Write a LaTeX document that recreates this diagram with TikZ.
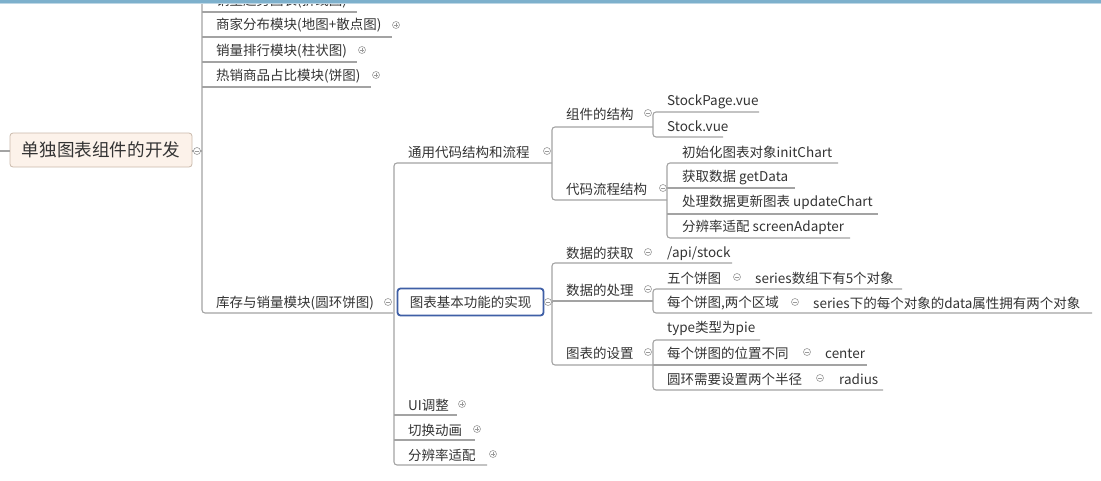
\documentclass[tikz,border=0pt]{standalone}
\usepackage{fontspec}
\setmainfont{Noto Sans CJK SC}
\definecolor{lc}{HTML}{A3A3A3}
\definecolor{cc}{HTML}{9A9A9A}
\definecolor{txt}{HTML}{333333}
\definecolor{rootfill}{HTML}{FCF2EA}
\definecolor{rootdraw}{HTML}{C9B9AA}
\definecolor{selblue}{HTML}{3F5FA6}
\definecolor{barblue}{HTML}{7DB0CC}
\tikzset{
  topic/.style={anchor=west, inner sep=0pt, yshift=-1.5pt, text=txt, font=\fontsize{13.5}{16}\selectfont},
  conn/.style={draw=lc, line width=1.1pt, rounded corners=3pt},
  fold/.style={circle, draw=cc, line width=0.6pt, minimum size=7pt, inner sep=0pt, fill=white,
    path picture={\draw[cc, line width=0.6pt] ([xshift=-2pt]path picture bounding box.center) -- ([xshift=2pt]path picture bounding box.center);}},
  unfold/.style={circle, draw=cc, line width=0.6pt, minimum size=7pt, inner sep=0pt, fill=white,
    path picture={\draw[cc, line width=0.6pt] ([xshift=-1.6pt]path picture bounding box.center) -- ([xshift=1.6pt]path picture bounding box.center)
      ([yshift=-1.6pt]path picture bounding box.center) -- ([yshift=1.6pt]path picture bounding box.center);}},
}
\begin{document}
\begin{tikzpicture}[x=1pt,y=-1pt]
\useasboundingbox (0,0) rectangle (1101,480);
\clip (0,0) rectangle (1101,480);

% ---------- root ----------
\node[draw=rootdraw, fill=rootfill, rounded corners=3pt, line width=0.8pt, minimum width=182pt, minimum height=34pt, inner sep=0pt,
      text=txt, font=\fontsize{17.6}{20}\selectfont] (root) at (101,150) {单独图表组件的开发};
\coordinate (lft) at (0,151);
\draw[conn] (lft) -- (root.west |- lft);
\coordinate (rt) at (202,151);
\draw[conn] (root.east |- rt) -- (rt);
\node[fold] (croot) at (197,151) {};

% ---------- level 1 ----------
\draw[conn] (357,12) -- (202,12);
\draw[conn] (202,-30) -- (202,313) -- (393,313);
\draw[conn] (202,37) -- (392,37);
\draw[conn] (202,62) -- (357,62);
\draw[conn] (202,87) -- (371,87);

\node[topic] (a0) at (216,-0.5) {销量趋势图表(折线图)};
\node[unfold] (ca0) at (362,0) {};
\node[topic] (a1) at (216,24) {商家分布模块(地图+散点图)};
\node[unfold] (ca1) at (396,25) {};
\node[topic] (a2) at (216,50) {销量排行模块(柱状图)};
\node[unfold] (ca2) at (362,50) {};
\node[topic] (a3) at (216,75) {热销商品占比模块(饼图)};
\node[unfold] (ca3) at (376,75) {};
\node[topic] (a4) at (216,302) {库存与销量模块(圆环饼图)};
\node[fold] (ca4) at (388,302) {};

% ---------- level 2 ----------
\draw[conn] (552,163) -- (394,163) -- (394,465) -- (487,465);
\draw[conn] (394,415) -- (457,415);
\draw[conn] (394,440) -- (475,440);

\node[topic] (b1) at (408,151) {通用代码结构和流程};
\node[fold] (cb1) at (547,151) {};
\node[draw=selblue, line width=1.8pt, rounded corners=3pt, fill=white, minimum width=146pt, minimum height=27pt, inner sep=0pt,
      text=txt, font=\fontsize{13.5}{16}\selectfont] (b2) at (470.5,302) {\raisebox{-1.5pt}{图表基本功能的实现}};
\node[fold] (cb2) at (548,302) {};
\draw[conn] (cb2.east) -- (552,302);
\node[topic] (b3) at (408,404) {UI调整};
\node[unfold] (cb3) at (462,404) {};
\node[topic] (b4) at (408,429) {切换动画};
\node[unfold] (cb4) at (477,429) {};
\node[topic] (b5) at (408,454) {分辨率适配};
\node[unfold] (cb5) at (493,454) {};

% ---------- level 3 under 通用 ----------
\draw[conn] (653,127) -- (552,127) -- (552,200) -- (667,200);
\node[topic] (c1) at (566,113) {组件的结构};
\node[fold] (cc1) at (648,113) {};
\node[topic] (c2) at (566,188) {代码流程结构};
\node[fold] (cc2) at (663,188) {};

% level 4 under 组件的结构
\draw[conn] (759,112) -- (653,112) -- (653,137) -- (723,137);
\node[topic] (d1) at (667,100) {StockPage.vue};
\node[topic] (d2) at (667,125) {Stock.vue};

% level 4 under 代码流程结构
\draw[conn] (838,163) -- (667,163) -- (667,238) -- (850,238);
\draw[conn] (667,188) -- (795,188);
\draw[conn] (667,214) -- (878,214);
\node[topic] (e1) at (682,151) {初始化图表对象initChart};
\node[topic] (e2) at (682,176) {获取数据 getData};
\node[topic] (e3) at (682,201) {处理数据更新图表 updateChart};
\node[topic] (e4) at (682,226) {分辨率适配 screenAdapter};

% ---------- level 3 under 图表基本功能 ----------
\draw[conn] (732,263) -- (552,263) -- (552,365) -- (653,365);
\draw[conn] (552,301) -- (653,301);
\node[topic] (f1) at (566,252) {数据的获取};
\node[fold] (cf1) at (648,252) {};
\node[topic] (f1a) at (667,252) {/api/stock};
\node[topic] (f2) at (566,289) {数据的处理};
\node[fold] (cf2) at (648,289) {};
\node[topic] (f3) at (566,352) {图表的设置};
\node[fold] (cf3) at (648,352) {};

% under 数据的处理
\draw[conn] (902,289) -- (653,289) -- (653,313) -- (1092,313);
\node[topic] (g1) at (667,277) {五个饼图};
\node[fold] (cg1) at (737,277) {};
\node[topic] (g1a) at (755,277) {series数组下有5个对象};
\node[topic] (g2) at (667,302) {每个饼图,两个区域};
\node[fold] (cg2) at (795,302) {};
\node[topic] (g2a) at (813,302) {series下的每个对象的data属性拥有两个对象};

% under 图表的设置
\draw[conn] (760,340) -- (653,340) -- (653,390) -- (883,390);
\draw[conn] (653,365) -- (867,365);
\node[topic] (h1) at (667,327) {type类型为pie};
\node[topic] (h2) at (667,352) {每个饼图的位置不同};
\node[fold] (ch2) at (807,352) {};
\node[topic] (h2a) at (825,352) {center};
\node[topic] (h3) at (667,378) {圆环需要设置两个半径};
\node[fold] (ch3) at (820,378) {};
\node[topic] (h3a) at (839,378) {radius};

% top bar
\fill[barblue] (0,0) rectangle (1101,3.2);
\fill[barblue!50!white] (0,3.2) rectangle (1101,4.2);
\end{tikzpicture}
\end{document}
